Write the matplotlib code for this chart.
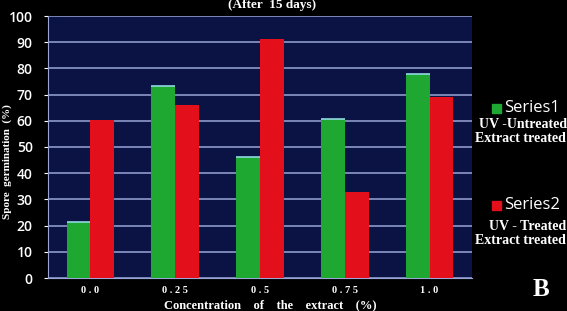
import numpy as np
import matplotlib.pyplot as plt

categories = ["0.0", "0.25", "0.5", "0.75", "1.0"]
series1 = [21.5, 73.3, 46.3, 60.7, 77.7]   # UV-untreated, extract treated
series2 = [60.3, 65.9, 91.1, 32.7, 69.2]   # UV-treated, extract treated
yticks = [0, 10, 20, 30, 40, 50, 60, 70, 80, 90, 100]

W, H = 567, 311
fig = plt.figure(figsize=(W / 100, H / 100), dpi=100, facecolor="black")
ax = fig.add_axes([48 / W, 1 - 278 / H, 424 / W, 262 / H])
ax.set_facecolor("#0b1345")

x = np.arange(len(categories))
bw = 0.28
green, red = "#1ea832", "#e3101c"
b1 = ax.bar(x - bw / 2, series1, bw, color=green, zorder=3)
b2 = ax.bar(x + bw / 2, series2, bw, color=red, zorder=3)
# pale highlight along the green bar tops
for r in b1:
    ax.plot([r.get_x(), r.get_x() + r.get_width()], [r.get_height()] * 2,
            color="#8fd8e0", lw=1.2, zorder=4, solid_capstyle="butt")

ax.set_xlim(-0.5, len(categories) - 0.5)
ax.set_ylim(0, 100)
ax.set_yticks(yticks)
ax.set_xticks(x)
ax.set_xticklabels([" ".join(c) for c in categories], family="Liberation Serif",
                   fontweight="bold", fontsize=7.5, color="white")
ax.tick_params(axis="y", colors="white", labelsize=10, length=3, pad=8)
ax.tick_params(axis="x", length=0, pad=6)
for t in ax.get_yticklabels():
    t.set_family("Open Sans")
    t.set_fontweight("semibold")
ax.grid(axis="y", color="#9aa6d8", lw=1.1, zorder=1)
for s in ("top", "right"):
    ax.spines[s].set_visible(False)
for s in ("left", "bottom"):
    ax.spines[s].set_color("#9aa6d8")

serif = dict(family="Liberation Serif", fontweight="bold", color="white")
fig.text(272 / W, 1 - 5 / H, "(After  15 days)", ha="center", va="center",
         fontsize=9.5, **serif)
fig.text(7 / W, 1 - 162 / H, "Spore  germination  (%)", rotation=90,
         ha="center", va="center", fontsize=8, **serif)
fig.text(270 / W, 1 - 305 / H, "Concentration    of    the    extract    (%)",
         ha="center", va="center", fontsize=9, **serif)

# legend-like labels on the right
fig.patches.append(plt.Rectangle((492 / W, 1 - 113 / H), 9 / W, 9 / H,
                                 transform=fig.transFigure, color=green))
fig.text(504 / W, 1 - 108 / H, "Series1", ha="left", va="center",
         fontsize=12, color="white", family="Open Sans")
fig.text(567 / W, 1 - 125 / H, "UV -Untreated", ha="right", va="center",
         fontsize=10, **serif)
fig.text(566 / W, 1 - 139 / H, "Extract treated", ha="right", va="center",
         fontsize=10, **serif)
fig.patches.append(plt.Rectangle((492 / W, 1 - 210 / H), 9 / W, 9 / H,
                                 transform=fig.transFigure, color=red))
fig.text(504 / W, 1 - 205 / H, "Series2", ha="left", va="center",
         fontsize=12, color="white", family="Open Sans")
fig.text(566 / W, 1 - 227 / H, "UV - Treated", ha="right", va="center",
         fontsize=10, **serif)
fig.text(566 / W, 1 - 240 / H, "Extract treated", ha="right", va="center",
         fontsize=10, **serif)
fig.text(541 / W, 1 - 290 / H, "B", ha="center", va="center",
         fontsize=18, **serif)

fig.savefig("out.png", dpi=100, facecolor="black")
